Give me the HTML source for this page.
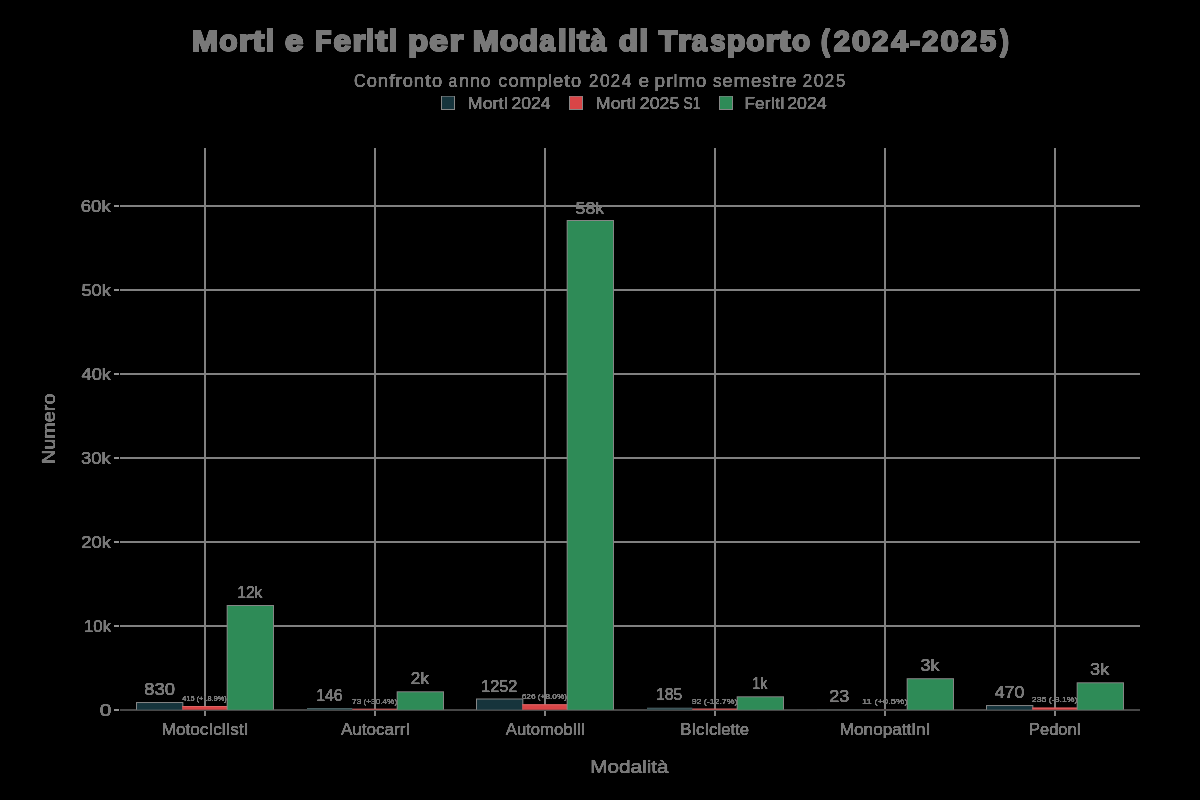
<!DOCTYPE html>
<html lang="it">
<head>
<meta charset="utf-8">
<title>Morti e Feriti per Modalità di Trasporto (2024-2025)</title>
<style>
html,body{margin:0;padding:0;background:#000;}
body{width:1200px;height:800px;overflow:hidden;font-family:"Liberation Sans",sans-serif;}
svg{display:block;}
text{font-family:"Liberation Sans",sans-serif;}
</style>
</head>
<body>
<svg width="1200" height="800" viewBox="0 0 1200 800" role="img" aria-label="Morti e Feriti per Modalità di Trasporto (2024-2025)">
<desc>Morti e Feriti per Modalità di Trasporto (2024-2025). Confronto anno completo 2024 e primo semestre 2025. Legenda: Morti 2024, Morti 2025 S1, Feriti 2024. Asse x: Modalità (Motociclisti, Autocarri, Automobili, Biciclette, Monopattini, Pedoni). Asse y: Numero.</desc>
<rect x="0" y="0" width="1200" height="800" fill="#000000"/>
<g shape-rendering="crispEdges">
<rect x="204" y="148" width="2" height="562" fill="#808080"/>
<rect x="374" y="148" width="2" height="562" fill="#808080"/>
<rect x="544" y="148" width="2" height="562" fill="#808080"/>
<rect x="714" y="148" width="2" height="562" fill="#808080"/>
<rect x="884" y="148" width="2" height="562" fill="#808080"/>
<rect x="1054" y="148" width="2" height="562" fill="#808080"/>
<rect x="120" y="205" width="1020" height="2" fill="#808080"/>
<rect x="120" y="289" width="1020" height="2" fill="#808080"/>
<rect x="120" y="373" width="1020" height="2" fill="#808080"/>
<rect x="120" y="457" width="1020" height="2" fill="#808080"/>
<rect x="120" y="541" width="1020" height="2" fill="#808080"/>
<rect x="120" y="625" width="1020" height="2" fill="#808080"/>
<rect x="114" y="205" width="5" height="2" fill="#909090"/>
<rect x="114" y="289" width="5" height="2" fill="#909090"/>
<rect x="114" y="373" width="5" height="2" fill="#909090"/>
<rect x="114" y="457" width="5" height="2" fill="#909090"/>
<rect x="114" y="541" width="5" height="2" fill="#909090"/>
<rect x="114" y="625" width="5" height="2" fill="#909090"/>
<rect x="114" y="709" width="5" height="2" fill="#909090"/>
<rect x="204" y="710" width="2" height="6" fill="#808080"/>
<rect x="374" y="710" width="2" height="6" fill="#808080"/>
<rect x="544" y="710" width="2" height="6" fill="#808080"/>
<rect x="714" y="710" width="2" height="6" fill="#808080"/>
<rect x="884" y="710" width="2" height="6" fill="#808080"/>
<rect x="1054" y="710" width="2" height="6" fill="#808080"/>
</g>
<g>
<rect x="120" y="709" width="1020" height="2" fill="#474747"/>
<rect x="136.00" y="702.03" width="47.33" height="7.67" fill="#868686"/>
<rect x="137.00" y="703.03" width="45.33" height="6.67" fill="#16343c"/>
<rect x="182.33" y="706.11" width="45.33" height="3.59" fill="#d94547"/>
<rect x="182.33" y="706.11" width="45.33" height="0.9" fill="#e26b6b"/>
<rect x="226.67" y="605.00" width="47.33" height="104.70" fill="#868686"/>
<rect x="227.67" y="606.00" width="45.33" height="103.70" fill="#2e8b57"/>
<g opacity="1.00"><rect x="307.00" y="708.02" width="45.33" height="1.68" fill="#55696b"/><rect x="307.00" y="708.77" width="45.33" height="0.93" fill="#2d464b"/></g>
<g opacity="1.00"><rect x="352.33" y="708.64" width="45.33" height="1.06" fill="#c86464"/><rect x="352.33" y="709.39" width="45.33" height="0.31" fill="#cf5050"/></g>
<rect x="396.67" y="691.30" width="47.33" height="18.40" fill="#868686"/>
<rect x="397.67" y="692.30" width="45.33" height="17.40" fill="#2e8b57"/>
<rect x="476.00" y="698.50" width="47.33" height="11.20" fill="#868686"/>
<rect x="477.00" y="699.50" width="45.33" height="10.20" fill="#16343c"/>
<rect x="522.33" y="704.34" width="45.33" height="5.36" fill="#d94547"/>
<rect x="522.33" y="704.34" width="45.33" height="0.9" fill="#e26b6b"/>
<rect x="566.67" y="220.00" width="47.33" height="489.70" fill="#868686"/>
<rect x="567.67" y="221.00" width="45.33" height="488.70" fill="#2e8b57"/>
<g opacity="1.00"><rect x="647.00" y="707.70" width="45.33" height="2.00" fill="#55696b"/><rect x="647.00" y="708.45" width="45.33" height="1.25" fill="#2d464b"/></g>
<g opacity="1.00"><rect x="692.33" y="708.48" width="45.33" height="1.22" fill="#c86464"/><rect x="692.33" y="709.23" width="45.33" height="0.47" fill="#cf5050"/></g>
<rect x="736.67" y="696.30" width="47.33" height="13.40" fill="#868686"/>
<rect x="737.67" y="697.30" width="45.33" height="12.40" fill="#2e8b57"/>
<g opacity="0.32"><rect x="817.00" y="709.06" width="45.33" height="0.64" fill="#55696b"/><rect x="817.00" y="709.81" width="45.33" height="-0.11" fill="#2d464b"/></g>
<g opacity="0.15"><rect x="862.33" y="709.16" width="45.33" height="0.54" fill="#c86464"/><rect x="862.33" y="709.91" width="45.33" height="-0.21" fill="#cf5050"/></g>
<rect x="906.67" y="678.20" width="47.33" height="31.50" fill="#868686"/>
<rect x="907.67" y="679.20" width="45.33" height="30.50" fill="#2e8b57"/>
<rect x="986.00" y="705.05" width="47.33" height="4.65" fill="#868686"/>
<rect x="987.00" y="706.05" width="45.33" height="3.65" fill="#16343c"/>
<rect x="1032.33" y="707.63" width="45.33" height="2.07" fill="#d94547"/>
<rect x="1032.33" y="707.63" width="45.33" height="0.9" fill="#e26b6b"/>
<rect x="1076.67" y="682.30" width="47.33" height="27.40" fill="#868686"/>
<rect x="1077.67" y="683.30" width="45.33" height="26.40" fill="#2e8b57"/>
</g>
<defs><filter id="th" x="0" y="0" width="1200" height="800" filterUnits="userSpaceOnUse" color-interpolation-filters="sRGB"><feComponentTransfer><feFuncA type="table" tableValues="0 0 0.5 1 1"/></feComponentTransfer></filter></defs>
<g filter="url(#th)">
<rect x="441" y="96" width="14" height="14" fill="#868686"/>
<rect x="442" y="96.6" width="12" height="12.4" fill="#16343c"/>
<rect x="569" y="96" width="14" height="14" fill="#868686"/>
<rect x="570" y="96.6" width="12" height="12.4" fill="#d94547"/>
<rect x="719" y="96" width="14" height="14" fill="#868686"/>
<rect x="720" y="96.6" width="12" height="12.4" fill="#2e8b57"/>
<text transform="matrix(1.0794 0 0 1 192.054 50.85)" font-size="28.8" fill="#787878" stroke="#787878" stroke-width="2.1" stroke-linejoin="miter" stroke-miterlimit="2" font-weight="bold">M</text>
<text transform="matrix(1.0407 0 0 1 219.294 50.85)" font-size="28.8" fill="#787878" stroke="#787878" stroke-width="2.1" stroke-linejoin="miter" stroke-miterlimit="2" font-weight="bold">o</text>
<text transform="matrix(1.1593 0 0 1 238.678 50.85)" font-size="28.8" fill="#787878" stroke="#787878" stroke-width="2.1" stroke-linejoin="miter" stroke-miterlimit="2" font-weight="bold">r</text>
<text transform="matrix(1.2483 0 0 1 252.305 50.85)" font-size="28.8" fill="#787878" stroke="#787878" stroke-width="2.1" stroke-linejoin="miter" stroke-miterlimit="2" font-weight="bold">t</text>
<text transform="matrix(1.0364 0 0 1 265.732 50.85)" font-size="28.8" fill="#787878" stroke="#787878" stroke-width="2.1" stroke-linejoin="miter" stroke-miterlimit="2" font-weight="bold">l</text>
<text transform="matrix(1.1494 0 0 1 284.914 50.85)" font-size="28.8" fill="#787878" stroke="#787878" stroke-width="2.1" stroke-linejoin="miter" stroke-miterlimit="2" font-weight="bold">e</text>
<text transform="matrix(0.9233 0 0 1 315.191 50.85)" font-size="28.8" fill="#787878" stroke="#787878" stroke-width="2.1" stroke-linejoin="miter" stroke-miterlimit="2" font-weight="bold">F</text>
<text transform="matrix(1.1014 0 0 1 333.458 50.85)" font-size="28.8" fill="#787878" stroke="#787878" stroke-width="2.1" stroke-linejoin="miter" stroke-miterlimit="2" font-weight="bold">e</text>
<text transform="matrix(1.1514 0 0 1 352.453 50.85)" font-size="28.8" fill="#787878" stroke="#787878" stroke-width="2.1" stroke-linejoin="miter" stroke-miterlimit="2" font-weight="bold">r</text>
<text transform="matrix(1.0301 0 0 1 366.078 50.85)" font-size="28.8" fill="#787878" stroke="#787878" stroke-width="2.1" stroke-linejoin="miter" stroke-miterlimit="2" font-weight="bold">l</text>
<text transform="matrix(1.2396 0 0 1 375.455 50.85)" font-size="28.8" fill="#787878" stroke="#787878" stroke-width="2.1" stroke-linejoin="miter" stroke-miterlimit="2" font-weight="bold">t</text>
<text transform="matrix(1.0301 0 0 1 388.776 50.85)" font-size="28.8" fill="#787878" stroke="#787878" stroke-width="2.1" stroke-linejoin="miter" stroke-miterlimit="2" font-weight="bold">l</text>
<text transform="matrix(1.1303 0 0 1 408.341 50.85)" font-size="28.8" fill="#787878" stroke="#787878" stroke-width="2.1" stroke-linejoin="miter" stroke-miterlimit="2" font-weight="bold">p</text>
<text transform="matrix(1.1729 0 0 1 429.190 50.85)" font-size="28.8" fill="#787878" stroke="#787878" stroke-width="2.1" stroke-linejoin="miter" stroke-miterlimit="2" font-weight="bold">e</text>
<text transform="matrix(1.2236 0 0 1 449.534 50.85)" font-size="28.8" fill="#787878" stroke="#787878" stroke-width="2.1" stroke-linejoin="miter" stroke-miterlimit="2" font-weight="bold">r</text>
<text transform="matrix(1.0815 0 0 1 472.652 50.85)" font-size="28.8" fill="#787878" stroke="#787878" stroke-width="2.1" stroke-linejoin="miter" stroke-miterlimit="2" font-weight="bold">M</text>
<text transform="matrix(1.0427 0 0 1 499.950 50.85)" font-size="28.8" fill="#787878" stroke="#787878" stroke-width="2.1" stroke-linejoin="miter" stroke-miterlimit="2" font-weight="bold">o</text>
<text transform="matrix(1.0710 0 0 1 519.129 50.85)" font-size="28.8" fill="#787878" stroke="#787878" stroke-width="2.1" stroke-linejoin="miter" stroke-miterlimit="2" font-weight="bold">d</text>
<text transform="matrix(0.9653 0 0 1 539.406 50.85)" font-size="28.8" fill="#787878" stroke="#787878" stroke-width="2.1" stroke-linejoin="miter" stroke-miterlimit="2" font-weight="bold">a</text>
<text transform="matrix(1.0381 0 0 1 558.201 50.85)" font-size="28.8" fill="#787878" stroke="#787878" stroke-width="2.1" stroke-linejoin="miter" stroke-miterlimit="2" font-weight="bold">l</text>
<text transform="matrix(1.0381 0 0 1 567.774 50.85)" font-size="28.8" fill="#787878" stroke="#787878" stroke-width="2.1" stroke-linejoin="miter" stroke-miterlimit="2" font-weight="bold">l</text>
<text transform="matrix(1.2506 0 0 1 577.241 50.85)" font-size="28.8" fill="#787878" stroke="#787878" stroke-width="2.1" stroke-linejoin="miter" stroke-miterlimit="2" font-weight="bold">t</text>
<text transform="matrix(0.9653 0 0 1 590.857 50.85)" font-size="28.8" fill="#787878" stroke="#787878" stroke-width="2.1" stroke-linejoin="miter" stroke-miterlimit="2" font-weight="bold">à</text>
<text transform="matrix(1.0951 0 0 1 618.856 50.85)" font-size="28.8" fill="#787878" stroke="#787878" stroke-width="2.1" stroke-linejoin="miter" stroke-miterlimit="2" font-weight="bold">d</text>
<text transform="matrix(1.0578 0 0 1 639.582 50.85)" font-size="28.8" fill="#787878" stroke="#787878" stroke-width="2.1" stroke-linejoin="miter" stroke-miterlimit="2" font-weight="bold">l</text>
<text transform="matrix(1.0460 0 0 1 658.760 50.85)" font-size="28.8" fill="#787878" stroke="#787878" stroke-width="2.1" stroke-linejoin="miter" stroke-miterlimit="2" font-weight="bold">T</text>
<text transform="matrix(1.1490 0 0 1 678.028 50.85)" font-size="28.8" fill="#787878" stroke="#787878" stroke-width="2.1" stroke-linejoin="miter" stroke-miterlimit="2" font-weight="bold">r</text>
<text transform="matrix(0.9546 0 0 1 691.674 50.85)" font-size="28.8" fill="#787878" stroke="#787878" stroke-width="2.1" stroke-linejoin="miter" stroke-miterlimit="2" font-weight="bold">a</text>
<text transform="matrix(0.9475 0 0 1 710.373 50.85)" font-size="28.8" fill="#787878" stroke="#787878" stroke-width="2.1" stroke-linejoin="miter" stroke-miterlimit="2" font-weight="bold">s</text>
<text transform="matrix(1.0590 0 0 1 726.750 50.85)" font-size="28.8" fill="#787878" stroke="#787878" stroke-width="2.1" stroke-linejoin="miter" stroke-miterlimit="2" font-weight="bold">p</text>
<text transform="matrix(1.0310 0 0 1 746.189 50.85)" font-size="28.8" fill="#787878" stroke="#787878" stroke-width="2.1" stroke-linejoin="miter" stroke-miterlimit="2" font-weight="bold">o</text>
<text transform="matrix(1.1490 0 0 1 765.378 50.85)" font-size="28.8" fill="#787878" stroke="#787878" stroke-width="2.1" stroke-linejoin="miter" stroke-miterlimit="2" font-weight="bold">r</text>
<text transform="matrix(1.2370 0 0 1 778.870 50.85)" font-size="28.8" fill="#787878" stroke="#787878" stroke-width="2.1" stroke-linejoin="miter" stroke-miterlimit="2" font-weight="bold">t</text>
<text transform="matrix(1.0310 0 0 1 791.939 50.85)" font-size="28.8" fill="#787878" stroke="#787878" stroke-width="2.1" stroke-linejoin="miter" stroke-miterlimit="2" font-weight="bold">o</text>
<text transform="matrix(0.9236 0 0 1 820.945 50.85)" font-size="28.8" fill="#787878" stroke="#787878" stroke-width="2.1" stroke-linejoin="miter" stroke-miterlimit="2" font-weight="bold">(</text>
<text transform="matrix(1.0052 0 0 1 833.799 50.85)" font-size="28.8" fill="#787878" stroke="#787878" stroke-width="2.1" stroke-linejoin="miter" stroke-miterlimit="2" font-weight="bold">2</text>
<text transform="matrix(1.1390 0 0 1 852.020 50.85)" font-size="28.8" fill="#787878" stroke="#787878" stroke-width="2.1" stroke-linejoin="miter" stroke-miterlimit="2" font-weight="bold">0</text>
<text transform="matrix(1.0052 0 0 1 872.275 50.85)" font-size="28.8" fill="#787878" stroke="#787878" stroke-width="2.1" stroke-linejoin="miter" stroke-miterlimit="2" font-weight="bold">2</text>
<text transform="matrix(1.0343 0 0 1 891.151 50.85)" font-size="28.8" fill="#787878" stroke="#787878" stroke-width="2.1" stroke-linejoin="miter" stroke-miterlimit="2" font-weight="bold">4</text>
<text transform="matrix(1.0495 0 0 1 909.932 50.85)" font-size="28.8" fill="#787878" stroke="#787878" stroke-width="2.1" stroke-linejoin="miter" stroke-miterlimit="2" font-weight="bold">-</text>
<text transform="matrix(1.0052 0 0 1 922.227 50.85)" font-size="28.8" fill="#787878" stroke="#787878" stroke-width="2.1" stroke-linejoin="miter" stroke-miterlimit="2" font-weight="bold">2</text>
<text transform="matrix(1.1390 0 0 1 940.447 50.85)" font-size="28.8" fill="#787878" stroke="#787878" stroke-width="2.1" stroke-linejoin="miter" stroke-miterlimit="2" font-weight="bold">0</text>
<text transform="matrix(1.0052 0 0 1 960.703 50.85)" font-size="28.8" fill="#787878" stroke="#787878" stroke-width="2.1" stroke-linejoin="miter" stroke-miterlimit="2" font-weight="bold">2</text>
<text transform="matrix(1.0088 0 0 1 980.000 50.85)" font-size="28.8" fill="#787878" stroke="#787878" stroke-width="2.1" stroke-linejoin="miter" stroke-miterlimit="2" font-weight="bold">5</text>
<text transform="matrix(0.9236 0 0 1 1000.098 50.85)" font-size="28.8" fill="#787878" stroke="#787878" stroke-width="2.1" stroke-linejoin="miter" stroke-miterlimit="2" font-weight="bold">)</text>
<text transform="matrix(0.8989 0 0 1 354.071 87.45)" font-size="18" fill="#787878" stroke="#787878" stroke-width="0.65" stroke-linejoin="round">C</text>
<text transform="matrix(1.0156 0 0 1 366.652 87.45)" font-size="18" fill="#787878" stroke="#787878" stroke-width="0.65" stroke-linejoin="round">o</text>
<text transform="matrix(1.0250 0 0 1 377.796 87.45)" font-size="18" fill="#787878" stroke="#787878" stroke-width="0.65" stroke-linejoin="round">n</text>
<text transform="matrix(1.2054 0 0 1 388.909 87.45)" font-size="18" fill="#787878" stroke="#787878" stroke-width="0.65" stroke-linejoin="round">f</text>
<text transform="matrix(1.1724 0 0 1 395.327 87.45)" font-size="18" fill="#787878" stroke="#787878" stroke-width="0.65" stroke-linejoin="round">r</text>
<text transform="matrix(1.0156 0 0 1 402.635 87.45)" font-size="18" fill="#787878" stroke="#787878" stroke-width="0.65" stroke-linejoin="round">o</text>
<text transform="matrix(1.0250 0 0 1 413.779 87.45)" font-size="18" fill="#787878" stroke="#787878" stroke-width="0.65" stroke-linejoin="round">n</text>
<text transform="matrix(1.2224 0 0 1 424.942 87.45)" font-size="18" fill="#787878" stroke="#787878" stroke-width="0.65" stroke-linejoin="round">t</text>
<text transform="matrix(1.0156 0 0 1 431.971 87.45)" font-size="18" fill="#787878" stroke="#787878" stroke-width="0.65" stroke-linejoin="round">o</text>
<text transform="matrix(0.8294 0 0 1 448.635 87.45)" font-size="18" fill="#787878" stroke="#787878" stroke-width="0.65" stroke-linejoin="round">a</text>
<text transform="matrix(0.9812 0 0 1 459.163 87.45)" font-size="18" fill="#787878" stroke="#787878" stroke-width="0.65" stroke-linejoin="round">n</text>
<text transform="matrix(0.9812 0 0 1 470.013 87.45)" font-size="18" fill="#787878" stroke="#787878" stroke-width="0.65" stroke-linejoin="round">n</text>
<text transform="matrix(0.9720 0 0 1 480.688 87.45)" font-size="18" fill="#787878" stroke="#787878" stroke-width="0.65" stroke-linejoin="round">o</text>
<text transform="matrix(0.9555 0 0 1 498.580 87.45)" font-size="18" fill="#787878" stroke="#787878" stroke-width="0.65" stroke-linejoin="round">c</text>
<text transform="matrix(1.0139 0 0 1 508.395 87.45)" font-size="18" fill="#787878" stroke="#787878" stroke-width="0.65" stroke-linejoin="round">o</text>
<text transform="matrix(1.0991 0 0 1 519.453 87.45)" font-size="18" fill="#787878" stroke="#787878" stroke-width="0.65" stroke-linejoin="round">m</text>
<text transform="matrix(1.0348 0 0 1 536.965 87.45)" font-size="18" fill="#787878" stroke="#787878" stroke-width="0.65" stroke-linejoin="round">p</text>
<text transform="matrix(0.8542 0 0 1 548.483 87.45)" font-size="18" fill="#787878" stroke="#787878" stroke-width="0.65" stroke-linejoin="round">l</text>
<text transform="matrix(1.0294 0 0 1 553.058 87.45)" font-size="18" fill="#787878" stroke="#787878" stroke-width="0.65" stroke-linejoin="round">e</text>
<text transform="matrix(1.2205 0 0 1 564.070 87.45)" font-size="18" fill="#787878" stroke="#787878" stroke-width="0.65" stroke-linejoin="round">t</text>
<text transform="matrix(1.0139 0 0 1 571.087 87.45)" font-size="18" fill="#787878" stroke="#787878" stroke-width="0.65" stroke-linejoin="round">o</text>
<text transform="matrix(0.9325 0 0 1 588.959 87.45)" font-size="18" fill="#787878" stroke="#787878" stroke-width="0.65" stroke-linejoin="round">2</text>
<text transform="matrix(0.9679 0 0 1 599.939 87.45)" font-size="18" fill="#787878" stroke="#787878" stroke-width="0.65" stroke-linejoin="round">0</text>
<text transform="matrix(0.9325 0 0 1 610.820 87.45)" font-size="18" fill="#787878" stroke="#787878" stroke-width="0.65" stroke-linejoin="round">2</text>
<text transform="matrix(0.9698 0 0 1 621.787 87.45)" font-size="18" fill="#787878" stroke="#787878" stroke-width="0.65" stroke-linejoin="round">4</text>
<text transform="matrix(1.0554 0 0 1 638.536 87.45)" font-size="18" fill="#787878" stroke="#787878" stroke-width="0.65" stroke-linejoin="round">e</text>
<text transform="matrix(1.0524 0 0 1 654.521 87.45)" font-size="18" fill="#787878" stroke="#787878" stroke-width="0.65" stroke-linejoin="round">p</text>
<text transform="matrix(1.1901 0 0 1 665.915 87.45)" font-size="18" fill="#787878" stroke="#787878" stroke-width="0.65" stroke-linejoin="round">r</text>
<text transform="matrix(0.8669 0 0 1 673.725 87.45)" font-size="18" fill="#787878" stroke="#787878" stroke-width="0.65" stroke-linejoin="round">l</text>
<text transform="matrix(1.1180 0 0 1 678.515 87.45)" font-size="18" fill="#787878" stroke="#787878" stroke-width="0.65" stroke-linejoin="round">m</text>
<text transform="matrix(1.0312 0 0 1 696.122 87.45)" font-size="18" fill="#787878" stroke="#787878" stroke-width="0.65" stroke-linejoin="round">o</text>
<text transform="matrix(0.9255 0 0 1 713.037 87.45)" font-size="18" fill="#787878" stroke="#787878" stroke-width="0.65" stroke-linejoin="round">s</text>
<text transform="matrix(1.0416 0 0 1 722.191 87.45)" font-size="18" fill="#787878" stroke="#787878" stroke-width="0.65" stroke-linejoin="round">e</text>
<text transform="matrix(1.1123 0 0 1 733.462 87.45)" font-size="18" fill="#787878" stroke="#787878" stroke-width="0.65" stroke-linejoin="round">m</text>
<text transform="matrix(1.0416 0 0 1 750.960 87.45)" font-size="18" fill="#787878" stroke="#787878" stroke-width="0.65" stroke-linejoin="round">e</text>
<text transform="matrix(0.9255 0 0 1 762.374 87.45)" font-size="18" fill="#787878" stroke="#787878" stroke-width="0.65" stroke-linejoin="round">s</text>
<text transform="matrix(1.2347 0 0 1 771.538 87.45)" font-size="18" fill="#787878" stroke="#787878" stroke-width="0.65" stroke-linejoin="round">t</text>
<text transform="matrix(1.1841 0 0 1 778.698 87.45)" font-size="18" fill="#787878" stroke="#787878" stroke-width="0.65" stroke-linejoin="round">r</text>
<text transform="matrix(1.0416 0 0 1 786.068 87.45)" font-size="18" fill="#787878" stroke="#787878" stroke-width="0.65" stroke-linejoin="round">e</text>
<text transform="matrix(0.9443 0 0 1 802.652 87.45)" font-size="18" fill="#787878" stroke="#787878" stroke-width="0.65" stroke-linejoin="round">2</text>
<text transform="matrix(0.9802 0 0 1 813.776 87.45)" font-size="18" fill="#787878" stroke="#787878" stroke-width="0.65" stroke-linejoin="round">0</text>
<text transform="matrix(0.9443 0 0 1 824.800 87.45)" font-size="18" fill="#787878" stroke="#787878" stroke-width="0.65" stroke-linejoin="round">2</text>
<text transform="matrix(0.9266 0 0 1 836.123 87.45)" font-size="18" fill="#787878" stroke="#787878" stroke-width="0.65" stroke-linejoin="round">5</text>
<text x="467.88" y="108.65" font-size="16.4" fill="#787878" textLength="40.45" lengthAdjust="spacingAndGlyphs" stroke="#787878" stroke-width="0.6" stroke-linejoin="round">MortI</text>
<text x="511.62" y="108.65" font-size="16.4" fill="#787878" textLength="38.98" lengthAdjust="spacingAndGlyphs" stroke="#787878" stroke-width="0.6" stroke-linejoin="round">2024</text>
<text x="595.88" y="108.65" font-size="16.4" fill="#787878" textLength="40.43" lengthAdjust="spacingAndGlyphs" stroke="#787878" stroke-width="0.6" stroke-linejoin="round">MortI</text>
<text x="639.81" y="108.65" font-size="16.4" fill="#787878" textLength="39.46" lengthAdjust="spacingAndGlyphs" stroke="#787878" stroke-width="0.6" stroke-linejoin="round">2025</text>
<text x="683.57" y="108.65" font-size="16.4" fill="#787878" textLength="16.78" lengthAdjust="spacingAndGlyphs" stroke="#787878" stroke-width="0.6" stroke-linejoin="round">S1</text>
<text x="744.64" y="108.65" font-size="16.4" fill="#787878" textLength="40.08" lengthAdjust="spacingAndGlyphs" stroke="#787878" stroke-width="0.6" stroke-linejoin="round">FerItI</text>
<text x="787.19" y="108.65" font-size="16.4" fill="#787878" textLength="39.56" lengthAdjust="spacingAndGlyphs" stroke="#787878" stroke-width="0.6" stroke-linejoin="round">2024</text>
<text x="80.82" y="211.65" font-size="16.4" fill="#787878" textLength="29.90" lengthAdjust="spacingAndGlyphs" stroke="#787878" stroke-width="0.6" stroke-linejoin="round">60k</text>
<text x="81.41" y="295.65" font-size="16.4" fill="#787878" textLength="29.34" lengthAdjust="spacingAndGlyphs" stroke="#787878" stroke-width="0.6" stroke-linejoin="round">50k</text>
<text x="81.52" y="379.65" font-size="16.4" fill="#787878" textLength="29.47" lengthAdjust="spacingAndGlyphs" stroke="#787878" stroke-width="0.6" stroke-linejoin="round">40k</text>
<text x="81.00" y="463.65" font-size="16.4" fill="#787878" textLength="29.74" lengthAdjust="spacingAndGlyphs" stroke="#787878" stroke-width="0.6" stroke-linejoin="round">30k</text>
<text x="81.16" y="547.65" font-size="16.4" fill="#787878" textLength="29.74" lengthAdjust="spacingAndGlyphs" stroke="#787878" stroke-width="0.6" stroke-linejoin="round">20k</text>
<text x="83.96" y="631.65" font-size="16.4" fill="#787878" textLength="27.10" lengthAdjust="spacingAndGlyphs" stroke="#787878" stroke-width="0.6" stroke-linejoin="round">10k</text>
<text x="99.67" y="716.40" font-size="16.4" fill="#787878" textLength="11.60" lengthAdjust="spacingAndGlyphs" stroke="#787878" stroke-width="0.6" stroke-linejoin="round">0</text>
<text x="161.73" y="734.60" font-size="16.4" fill="#787878" textLength="86.75" lengthAdjust="spacingAndGlyphs" stroke="#787878" stroke-width="0.6" stroke-linejoin="round">MotocIclIstI</text>
<text x="340.96" y="734.60" font-size="16.4" fill="#787878" textLength="69.23" lengthAdjust="spacingAndGlyphs" stroke="#787878" stroke-width="0.6" stroke-linejoin="round">AutocarrI</text>
<text x="505.77" y="734.60" font-size="16.4" fill="#787878" textLength="79.66" lengthAdjust="spacingAndGlyphs" stroke="#787878" stroke-width="0.6" stroke-linejoin="round">AutomobIlI</text>
<text x="680.33" y="734.60" font-size="16.4" fill="#787878" textLength="68.75" lengthAdjust="spacingAndGlyphs" stroke="#787878" stroke-width="0.6" stroke-linejoin="round">BIcIclette</text>
<text x="839.72" y="734.60" font-size="16.4" fill="#787878" textLength="90.71" lengthAdjust="spacingAndGlyphs" stroke="#787878" stroke-width="0.6" stroke-linejoin="round">MonopattInI</text>
<text x="1029.05" y="734.60" font-size="16.4" fill="#787878" textLength="52.13" lengthAdjust="spacingAndGlyphs" stroke="#787878" stroke-width="0.6" stroke-linejoin="round">PedonI</text>
<text x="590.27" y="772.50" font-size="18.3" fill="#787878" textLength="78.27" lengthAdjust="spacingAndGlyphs" stroke="#787878" stroke-width="0.7" stroke-linejoin="round">Modalità</text>
<text transform="translate(54.9,464.00) rotate(-90)" x="0" y="0" font-size="18.3" fill="#787878" textLength="70.48" lengthAdjust="spacingAndGlyphs" stroke="#787878" stroke-width="0.7" stroke-linejoin="round">Numero</text>
<text x="144.18" y="694.50" font-size="16.4" fill="#787878" textLength="30.75" lengthAdjust="spacingAndGlyphs" stroke="#787878" stroke-width="0.6" stroke-linejoin="round">830</text>
<text x="237.18" y="597.50" font-size="16.4" fill="#787878" textLength="25.28" lengthAdjust="spacingAndGlyphs" stroke="#787878" stroke-width="0.6" stroke-linejoin="round">12k</text>
<text x="316.24" y="700.50" font-size="16.4" fill="#787878" textLength="26.37" lengthAdjust="spacingAndGlyphs" stroke="#787878" stroke-width="0.6" stroke-linejoin="round">146</text>
<text x="410.88" y="683.70" font-size="16.4" fill="#787878" textLength="18.06" lengthAdjust="spacingAndGlyphs" stroke="#787878" stroke-width="0.6" stroke-linejoin="round">2k</text>
<text x="481.05" y="691.50" font-size="16.4" fill="#787878" textLength="36.41" lengthAdjust="spacingAndGlyphs" stroke="#787878" stroke-width="0.6" stroke-linejoin="round">1252</text>
<text x="575.60" y="213.50" font-size="16.4" fill="#787878" textLength="28.68" lengthAdjust="spacingAndGlyphs" stroke="#787878" stroke-width="0.6" stroke-linejoin="round">58k</text>
<text x="656.12" y="700.40" font-size="16.4" fill="#787878" textLength="26.23" lengthAdjust="spacingAndGlyphs" stroke="#787878" stroke-width="0.6" stroke-linejoin="round">185</text>
<text x="752.33" y="688.50" font-size="16.4" fill="#787878" textLength="15.03" lengthAdjust="spacingAndGlyphs" stroke="#787878" stroke-width="0.6" stroke-linejoin="round">1k</text>
<text x="829.34" y="701.50" font-size="16.4" fill="#787878" textLength="20.08" lengthAdjust="spacingAndGlyphs" stroke="#787878" stroke-width="0.6" stroke-linejoin="round">23</text>
<text x="920.44" y="670.50" font-size="16.4" fill="#787878" textLength="18.95" lengthAdjust="spacingAndGlyphs" stroke="#787878" stroke-width="0.6" stroke-linejoin="round">3k</text>
<text x="994.74" y="697.50" font-size="16.4" fill="#787878" textLength="29.62" lengthAdjust="spacingAndGlyphs" stroke="#787878" stroke-width="0.6" stroke-linejoin="round">470</text>
<text x="1090.08" y="674.50" font-size="16.4" fill="#787878" textLength="19.09" lengthAdjust="spacingAndGlyphs" stroke="#787878" stroke-width="0.6" stroke-linejoin="round">3k</text>
<text x="182.32" y="700.75" font-size="7.8" fill="#787878" textLength="44.42" lengthAdjust="spacingAndGlyphs" stroke="#787878" stroke-width="0.45" stroke-linejoin="round">415 (+18.9%)</text>
<text x="352.08" y="704.30" font-size="7.8" fill="#787878" textLength="45.10" lengthAdjust="spacingAndGlyphs" stroke="#787878" stroke-width="0.45" stroke-linejoin="round">73 (+30.4%)</text>
<text x="521.71" y="698.70" font-size="7.8" fill="#787878" textLength="45.42" lengthAdjust="spacingAndGlyphs" stroke="#787878" stroke-width="0.45" stroke-linejoin="round">626 (+8.0%)</text>
<text x="691.72" y="703.70" font-size="7.8" fill="#787878" textLength="45.69" lengthAdjust="spacingAndGlyphs" stroke="#787878" stroke-width="0.45" stroke-linejoin="round">92 (-12.7%)</text>
<text x="862.03" y="704.00" font-size="7.8" fill="#787878" textLength="45.60" lengthAdjust="spacingAndGlyphs" stroke="#787878" stroke-width="0.45" stroke-linejoin="round">11 (+0.5%)</text>
<text x="1031.88" y="702.20" font-size="7.8" fill="#787878" textLength="45.54" lengthAdjust="spacingAndGlyphs" stroke="#787878" stroke-width="0.45" stroke-linejoin="round">235 (-3.1%)</text>
</g>
</svg>
</body>
</html>
